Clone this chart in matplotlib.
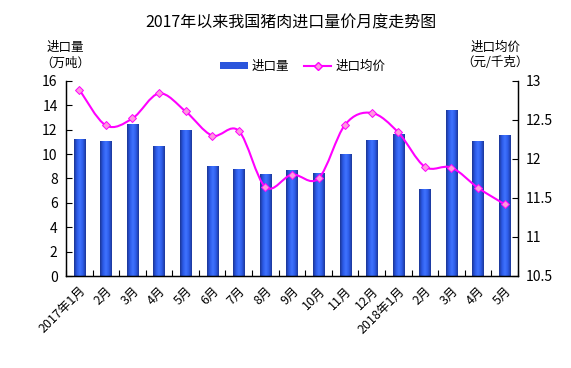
import numpy as np
import matplotlib
matplotlib.use("Agg")
import matplotlib.pyplot as plt
import matplotlib.transforms as mtransforms
from matplotlib.path import Path
from matplotlib.patches import PathPatch
from matplotlib.lines import Line2D
from matplotlib.colors import LinearSegmentedColormap

plt.rcParams['font.family'] = ['Noto Sans CJK SC', 'DejaVu Sans']

# Data
months = ['2017年1月', '2月', '3月', '4月', '5月', '6月', '7月', '8月', '9月',
          '10月', '11月', '12月', '2018年1月', '2月', '3月', '4月', '5月']
volume = [11.2, 11.05, 12.45, 10.65, 11.95, 9.0, 8.75, 8.35, 8.7,
          8.42, 10.0, 11.15, 11.65, 7.15, 13.6, 11.05, 11.55]   # 万吨
price = [12.89, 12.43, 12.52, 12.84, 12.61, 12.30, 12.36, 11.64, 11.80,
         11.75, 12.44, 12.59, 12.34, 11.90, 11.89, 11.63, 11.42]  # 元/千克

barColour = '#2a55dc'
lineColour = '#ff00ff'
markerFace = '#ff99dd'
fontSize = 9

fig = plt.figure(figsize=(5.71, 3.68), dpi=100)
ax = fig.add_axes([0.1156, 0.25, 0.7914, 0.53])
ax2 = ax.twinx()

x = np.arange(len(months))
bars = ax.bar(x, volume, width=0.42, color=barColour, zorder=2)

# cylinder-like shading for each bar
cmap = LinearSegmentedColormap.from_list(
    'cyl', ['#1b3594', '#2c5ae6', '#3f73ff', '#2d5ce8', '#1c3799'])
grad = np.linspace(0, 1, 64).reshape(1, -1)
for b in bars:
    x0, y0 = b.get_x(), b.get_y()
    im = ax.imshow(grad, cmap=cmap, aspect='auto', zorder=2,
                   extent=(x0, x0 + b.get_width(), y0, y0 + b.get_height()))
    im.set_clip_path(b)

ax.set_xlim(-0.5, len(months) - 0.5)
ax.set_ylim(0, 16)
ax.set_yticks(range(0, 17, 2))
ax2.set_ylim(10.5, 13)
ax2.set_yticks([10.5, 11, 11.5, 12, 12.5, 13])
ax2.set_yticklabels(['10.5', '11', '11.5', '12', '12.5', '13'])

# smoothed price line (Catmull-Rom as Bezier segments)
pts = np.column_stack([x, price]).astype(float)
verts = [pts[0]]
codes = [Path.MOVETO]
for i in range(len(pts) - 1):
    p0 = pts[i - 1] if i > 0 else pts[i]
    p1, p2 = pts[i], pts[i + 1]
    p3 = pts[i + 2] if i + 2 < len(pts) else pts[i + 1]
    c1 = p1 + (p2 - p0) / 6.0
    c2 = p2 - (p3 - p1) / 6.0
    verts += [c1, c2, p2]
    codes += [Path.CURVE4] * 3
curve = PathPatch(Path(verts, codes), facecolor='none', edgecolor=lineColour,
                  linewidth=1.5, zorder=3)
ax2.add_patch(curve)
ax2.plot(x, price, linestyle='none', marker='D', markersize=3.8,
         markerfacecolor=markerFace, markeredgecolor=lineColour,
         markeredgewidth=0.7, zorder=4)

# ticks
ax.set_xticks(np.arange(-0.5, len(months), 1), minor=False)
ax.set_xticklabels([])
ax.set_xticks(x, minor=True)
ax.set_xticklabels(months, minor=True, rotation=45, ha='right', va='top',
                   rotation_mode='anchor', fontsize=fontSize)
shift = mtransforms.ScaledTranslation(-7 / 100, -5 / 100, fig.dpi_scale_trans)
for lab in ax.get_xticklabels(minor=True):
    lab.set_transform(lab.get_transform() + shift)
ax.tick_params(axis='x', which='major', direction='in', length=4, width=0.8)
ax.tick_params(axis='x', which='minor', length=0, pad=6)
ax.tick_params(axis='y', direction='in', length=4, width=0.8,
               labelsize=fontSize + 1, pad=6)
ax2.tick_params(axis='y', direction='in', length=4, width=0.8,
                labelsize=fontSize + 1, pad=6)

for a in (ax, ax2):
    a.spines['top'].set_visible(False)
    for s in ('left', 'right', 'bottom'):
        a.spines[s].set_linewidth(0.9)

fig.text(0.51, 0.937, '2017年以来我国猪肉进口量价月度走势图', ha='center',
         va='center', fontsize=11.5)
fig.text(0.115, 0.85, '进口量\n（万吨）', ha='center', va='center',
         fontsize=fontSize, linespacing=1.25)
fig.text(0.867, 0.85, '进口均价\n（元/千克）', ha='center', va='center',
         fontsize=fontSize, linespacing=1.25)

handles = [plt.Rectangle((0, 0), 1, 1, facecolor=barColour),
           Line2D([], [], color=lineColour, linewidth=1.5, marker='D',
                  markersize=3.8, markerfacecolor=markerFace,
                  markeredgecolor=lineColour)]
fig.legend(handles, ['进口量', '进口均价'], loc='center',
           bbox_to_anchor=(0.53, 0.82), ncol=2, frameon=False,
           fontsize=fontSize, handlelength=2.2, handleheight=0.55,
           columnspacing=1.2, handletextpad=0.3)

fig.savefig('out.png', dpi=100)
